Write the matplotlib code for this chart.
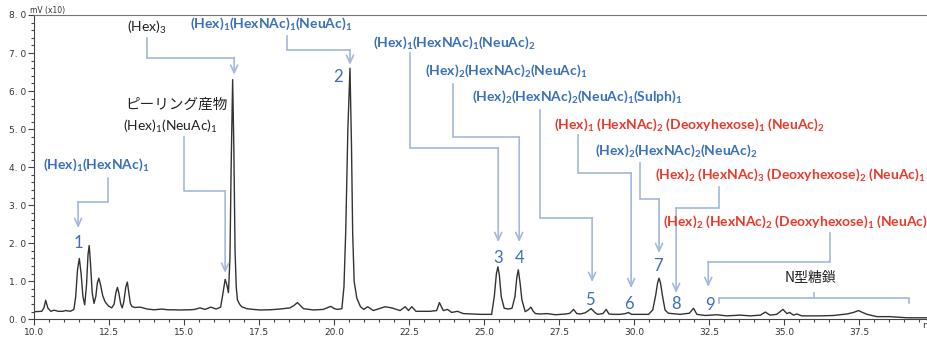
import re
import numpy as np
import matplotlib
matplotlib.use('Agg')
import matplotlib.pyplot as plt
from matplotlib.ticker import MultipleLocator

plt.rcParams['font.family'] = ['Lato', 'DejaVu Sans']
plt.rcParams['mathtext.fontset'] = 'custom'
plt.rcParams['mathtext.rm'] = 'Lato'
plt.rcParams['mathtext.bf'] = 'Lato:bold'
plt.rcParams['mathtext.it'] = 'Lato:italic'

# chromatogram trace (retention time min, signal mV x10)
rt = [10.00, 10.25, 10.32, 10.38, 10.45, 10.55, 10.66, 10.80, 10.95, 11.05, 11.20, 11.32,
      11.38, 11.44, 11.50, 11.56, 11.62, 11.68, 11.74, 11.79, 11.83, 11.87, 11.93, 11.99,
      12.05, 12.10, 12.15, 12.21, 12.28, 12.36, 12.47, 12.58, 12.66, 12.72, 12.77, 12.82,
      12.88, 12.93, 12.98, 13.05, 13.10, 13.15, 13.20, 13.25, 13.35, 13.53, 13.76, 14.00,
      14.25, 14.45, 14.63, 14.86, 15.19, 15.35, 15.52, 15.69, 15.88, 16.06, 16.21, 16.28,
      16.36, 16.42, 16.47, 16.52, 16.56, 16.61, 16.65, 16.69, 16.73, 16.77, 16.84, 16.91,
      17.08, 17.30, 17.53, 17.85, 18.19, 18.52, 18.65, 18.77, 18.87, 18.97, 19.30, 19.63,
      19.76, 19.88, 20.00, 20.10, 20.25, 20.32, 20.38, 20.45, 20.52, 20.57, 20.61, 20.66,
      20.75, 20.87, 20.98, 21.11, 21.30, 21.50, 21.69, 21.91, 22.19, 22.36, 22.47, 22.58,
      22.72, 23.19, 23.41, 23.50, 23.63, 23.77, 23.91, 24.10, 24.30, 24.86, 25.24, 25.33,
      25.40, 25.45, 25.50, 25.56, 25.66, 25.80, 25.92, 26.02, 26.08, 26.13, 26.19, 26.25,
      26.36, 26.46, 26.55, 26.62, 26.70, 26.87, 27.09, 27.37, 27.72, 27.85, 27.97, 28.08,
      28.20, 28.36, 28.56, 28.68, 28.77, 28.95, 29.06, 29.15, 29.30, 29.52, 29.70, 29.80,
      29.90, 30.19, 30.47, 30.61, 30.71, 30.77, 30.82, 30.87, 30.93, 31.02, 31.13, 31.52,
      31.83, 31.97, 32.08, 32.36, 32.75, 33.08, 33.52, 33.86, 34.20, 34.36, 34.52, 34.74,
      34.95, 35.08, 35.17, 35.30, 35.41, 35.58, 36.19, 36.63, 37.08, 37.30, 37.47, 37.60,
      37.75, 38.08, 38.52, 39.08, 39.75]
signal = [0.20, 0.21, 0.30, 0.50, 0.30, 0.21, 0.24, 0.21, 0.21, 0.23, 0.21, 0.26,
          0.60, 1.30, 1.60, 1.20, 0.60, 0.38, 0.90, 1.70, 1.94, 1.50, 0.70, 0.42,
          0.60, 0.95, 1.08, 0.90, 0.62, 0.46, 0.35, 0.30, 0.40, 0.70, 0.84, 0.68,
          0.40, 0.30, 0.45, 0.85, 0.98, 0.70, 0.42, 0.34, 0.31, 0.32, 0.27, 0.25,
          0.27, 0.25, 0.25, 0.245, 0.25, 0.26, 0.30, 0.26, 0.32, 0.27, 0.32, 0.65,
          1.05, 0.90, 0.70, 1.60, 4.00, 6.30, 4.50, 1.80, 0.85, 0.51, 0.40, 0.33,
          0.28, 0.26, 0.245, 0.25, 0.27, 0.30, 0.36, 0.44, 0.36, 0.28, 0.245, 0.26,
          0.30, 0.34, 0.28, 0.26, 0.28, 0.86, 2.35, 5.00, 6.60, 4.60, 2.26, 0.99,
          0.55, 0.33, 0.26, 0.33, 0.23, 0.28, 0.33, 0.30, 0.23, 0.33, 0.23, 0.33,
          0.21, 0.21, 0.23, 0.44, 0.23, 0.26, 0.18, 0.21, 0.15, 0.13, 0.13, 0.60,
          1.20, 1.38, 1.15, 0.60, 0.29, 0.27, 0.29, 0.60, 1.10, 1.30, 0.95, 0.51,
          0.20, 0.25, 0.32, 0.22, 0.15, 0.14, 0.15, 0.12, 0.14, 0.16, 0.26, 0.15,
          0.14, 0.17, 0.28, 0.18, 0.13, 0.15, 0.26, 0.14, 0.13, 0.13, 0.15, 0.18,
          0.13, 0.13, 0.13, 0.245, 0.64, 0.95, 1.08, 0.95, 0.64, 0.245, 0.16, 0.13,
          0.16, 0.29, 0.13, 0.10, 0.12, 0.09, 0.11, 0.09, 0.11, 0.19, 0.11, 0.13,
          0.26, 0.15, 0.18, 0.11, 0.14, 0.09, 0.09, 0.10, 0.14, 0.18, 0.23, 0.18,
          0.13, 0.07, 0.07, 0.04, 0.04]

# peak annotations
labels = ['(Hex)_3', '(Hex)_1(HexNAc)_1(NeuAc)_1', '(Hex)_1(HexNAc)_1',
          '(Hex)_1(HexNAc)_1(NeuAc)_2', '(Hex)_2(HexNAc)_2(NeuAc)_1',
          '(Hex)_2(HexNAc)_2(NeuAc)_1(Sulph)_1',
          '(Hex)_1 (HexNAc)_2 (Deoxyhexose)_1 (NeuAc)_2',
          '(Hex)_2(HexNAc)_2(NeuAc)_2',
          '(Hex)_2 (HexNAc)_3 (Deoxyhexose)_2 (NeuAc)_1',
          '(Hex)_2 (HexNAc)_2 (Deoxyhexose)_1 (NeuAc)_1']
peak_no = ['', '2', '1', '3', '4', '5', '6', '7', '8', '9']
kinds = ['k', 'b', 'b', 'b', 'b', 'b', 'r', 'b', 'r', 'r']
peak_rt = [16.66, 20.52, 11.46, 25.46, 26.16, 28.59, 29.89, 30.82, 31.39, 32.46]

# layout (data coords): text left/centre y, stem x, stem top, elbow y, arrow tip y, number y
text_x = [13.09, 15.19, 10.29, 21.29, 23.02, 24.59, 27.32, 28.68, 30.69, 30.96]
text_y = [7.67, 7.77, 4.06, 7.27, 6.53, 5.85, 5.11, 4.43, 3.80, 2.56]
stem_x = [13.76, 18.42, 12.46, 22.52, 23.96, 26.86, 28.12, 30.19, 32.82, 36.52]
stem_top = [7.40, 7.46, 3.72, 7.00, 6.19, 5.51, 4.85, 4.11, 3.48, 2.27]
elbow_y = [6.88, 7.09, 3.09, 4.51, 4.79, 2.67, 3.85, 3.17, 2.93, 1.51]
tip_y = [6.43, 6.69, 2.40, 2.03, 2.03, 0.98, 0.82, 1.74, 0.69, 0.85]
num_y = [0, 6.37, 2.01, 1.61, 1.61, 0.51, 0.40, 1.40, 0.40, 0.38]
num_dx = [0, -0.40, 0, 0, 0, -0.07, -0.07, -0.03, 0, 0.06]

colors = {'k': '#222222', 'b': '#3a70b8', 'r': '#e8392b'}
line_c = '#a3b8da'


def to_math(s, bold):
    f = r'\mathbf' if bold else r'\mathrm'
    return re.sub(r'_(\d)', lambda m: '$_{%s{%s}}$' % (f, m.group(1)), s)


fig = plt.figure(figsize=(9.27, 3.38), dpi=100)
ax = fig.add_axes([34.3 / 927, 1 - 319.3 / 338, 1 - 34.3 / 927, (319.3 - 15) / 338])

ax.plot(rt, signal, color='#333333', lw=1.0)
ax.set_xlim(10, 39.75)
ax.set_ylim(0, 8)

ax.xaxis.set_major_locator(MultipleLocator(2.5))
ax.xaxis.set_minor_locator(MultipleLocator(0.5))
ax.yaxis.set_major_locator(MultipleLocator(1.0))
ax.yaxis.set_minor_locator(MultipleLocator(0.2))
ax.tick_params(which='both', direction='out', colors='#444444', labelsize=6.5,
               labelcolor='#333333', width=0.8)
ax.tick_params(which='major', length=4, pad=2)
ax.tick_params(which='minor', length=2.5)
ax.set_xticks(np.arange(10, 39, 2.5))
ax.set_xticklabels(['%.1f' % v for v in np.arange(10, 39, 2.5)], family='DejaVu Sans')
ax.set_yticks(np.arange(0, 9, 1.0))
ax.set_yticklabels([('%.1f' % v).replace('.', '. ') for v in np.arange(0, 9, 1.0)],
                   family='DejaVu Sans')
for s in ['left', 'bottom']:
    ax.spines[s].set_color('#444444')
    ax.spines[s].set_linewidth(0.8)
ax.spines['top'].set_color('#777777')
ax.spines['top'].set_linewidth(0.8)
ax.spines['right'].set_visible(False)

fig.text(30 / 927, 1 - 11 / 338, 'mV (x10)', fontsize=5.5, family='DejaVu Sans',
         color='#333333', va='center')
fig.text(922 / 927, 1 - 326 / 338, 'min', fontsize=6.5, family='DejaVu Sans',
         color='#333333', va='center')

for i, lab in enumerate(labels):
    bold = kinds[i] != 'k'
    ax.text(text_x[i], text_y[i], to_math(lab, bold), color=colors[kinds[i]],
            fontsize=10, fontweight='bold' if bold else 'normal',
            ha='left', va='center', clip_on=False)
    ax.plot([stem_x[i], stem_x[i], peak_rt[i]], [stem_top[i], elbow_y[i], elbow_y[i]],
            color=line_c, lw=1.2, solid_joinstyle='miter')
    ax.annotate('', xy=(peak_rt[i], tip_y[i]), xytext=(peak_rt[i], elbow_y[i]),
                arrowprops=dict(arrowstyle='->,head_length=0.55,head_width=0.25',
                                color=line_c, lw=1.2, shrinkA=0, shrinkB=0))
    if peak_no[i]:
        ax.text(peak_rt[i] + num_dx[i], num_y[i], peak_no[i], color=colors['b'],
                fontsize=12, ha='center', va='center')

# peeling product label
ax.text(13.03, 5.64, 'ピーリング産物', family=['Noto Sans CJK JP', 'DejaVu Sans'],
        fontsize=10.5, color='#222222', ha='left', va='center')
ax.text(12.96, 5.08, to_math('(Hex)_1(NeuAc)_1', False), fontsize=10,
        color='#222222', ha='left', va='center')
ax.plot([14.99, 14.99, 16.36], [4.79, 3.38, 3.38], color=line_c, lw=1.2)
ax.annotate('', xy=(16.36, 1.22), xytext=(16.36, 3.38),
            arrowprops=dict(arrowstyle='->,head_length=0.55,head_width=0.25',
                            color=line_c, lw=1.2, shrinkA=0, shrinkB=0))

# N-glycan bracket
ax.plot([32.82, 32.82, 39.16, 39.16], [0.43, 0.56, 0.56, 0.43], color=line_c, lw=1.2)
ax.plot([35.99, 35.99], [0.56, 0.69], color=line_c, lw=1.2)
ax.text(35.86, 1.09, 'N型糖鎖', family=['Noto Sans CJK JP', 'DejaVu Sans'],
        fontsize=10, color='#222222', ha='center', va='center')

fig.savefig('out.png', dpi=100)
